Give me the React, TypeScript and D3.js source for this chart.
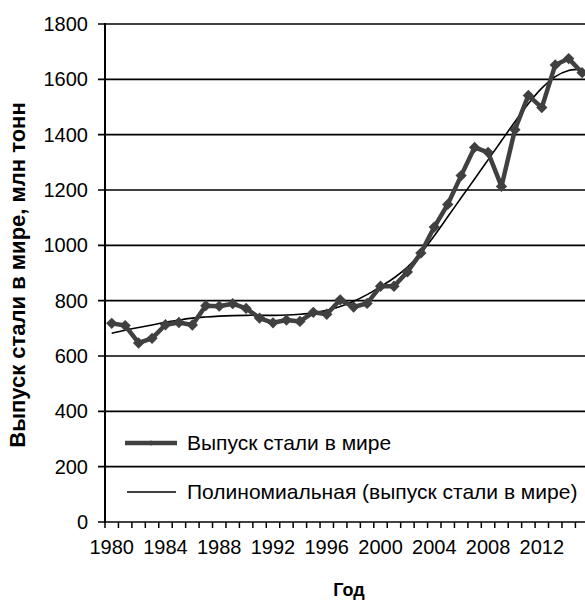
import * as d3 from 'd3';

// годы (категории оси X)
const years = [1980, 1981, 1982, 1983, 1984, 1985, 1986, 1987, 1988, 1989,
	1990, 1991, 1992, 1993, 1994, 1995, 1996, 1997, 1998, 1999,
	2000, 2001, 2002, 2003, 2004, 2005, 2006, 2007, 2008, 2009,
	2010, 2011, 2012, 2013, 2014, 2015];

// выпуск стали в мире, млн тонн
const steel = [718, 710, 647, 664, 713, 721, 712, 782, 780, 789,
	772, 737, 720, 730, 725, 758, 751, 803, 777, 790,
	852, 852, 904, 972, 1066, 1148, 1252, 1354, 1336, 1213,
	1418, 1542, 1498, 1652, 1675, 1624];

// полиномиальный тренд
const trend = [682, 693, 703, 712, 722, 730, 737, 741, 744, 746,
	747, 747, 747, 748, 751, 756, 765, 779, 798, 822,
	851, 882, 921, 972, 1035, 1103, 1172, 1240, 1309, 1378,
	1447, 1512, 1568, 1610, 1632, 1637];

const yTicks = [0, 200, 400, 600, 800, 1000, 1200, 1400, 1600, 1800];
const xTickLabels = [1980, 1984, 1988, 1992, 1996, 2000, 2004, 2008, 2012];

const seriesName = 'Выпуск стали в мире'
	, trendName = 'Полиномиальная (выпуск стали в мире)'
	, yTitle = 'Выпуск стали в мире, млн тонн'
	, xTitle = 'Год'
	;

export default function App(){
	const W = 585
		, H = 600
		, left = 105
		, step = 13.44
		, right = left + years.length * step
		, top = 24
		, bottom = 522
		, font = '"Liberation Sans", Arial, sans-serif'
		, lineColor = '#404040'
		;

	const x = d3.scaleBand<number>().domain(years).range([left, right]).padding(0)
		, xc = (yr: number)=> (x(yr) as number) + x.bandwidth() / 2
		, y = d3.scaleLinear().domain([0, 1800]).range([bottom, top])
		;

	const dataLine = d3.line<number>().x((d, i)=> xc(years[i])).y((d)=> y(d))
		, trendLine = d3.line<number>().x((d, i)=> xc(years[i])).y((d)=> y(d)).curve(d3.curveCatmullRom.alpha(0.5))
		, diamond = d3.symbol(d3.symbolSquare, 64)()
		, smallDiamond = d3.symbol(d3.symbolSquare, 16)()
		;

	// границы категорий для делений оси X
	const xBounds = years.map((yr)=> x(yr) as number);

	return (<div>
		<style>{'body{margin:0}'}</style>
		<svg width={W} height={H} style={{display: 'block', background: '#fff'}} fontFamily={font}>
			{/* сетка */}
			{yTicks.map((t)=>(<line key={t}
				x1={left - 7} x2={W} y1={y(t)} y2={y(t)}
				stroke="#000" strokeWidth={1.7}/>))}

			{/* деления оси X */}
			{xBounds.map((bx, i)=>(<line key={i}
				x1={bx} x2={bx} y1={bottom} y2={bottom + 6}
				stroke="#000" strokeWidth={1.5}/>))}

			{/* ось Y */}
			<line x1={left} x2={left} y1={top - 1} y2={bottom + 1} stroke="#000" strokeWidth={2}/>

			{/* подписи оси Y */}
			{yTicks.map((t)=>(<text key={t} x={88} y={y(t) + 7} textAnchor="end" fontSize={20}>{t}</text>))}

			{/* подписи оси X */}
			{xTickLabels.map((yr)=>(<text key={yr} x={xc(yr)} y={554} textAnchor="middle" fontSize={20}>{yr}</text>))}

			{/* тренд */}
			<path d={trendLine(trend) || ''} fill="none" stroke="#000" strokeWidth={1.6}/>

			{/* данные */}
			<path d={dataLine(steel) || ''} fill="none" stroke={lineColor} strokeWidth={4.5} strokeLinejoin="round"/>
			{steel.map((v, i)=>(<path key={i} d={diamond || ''}
				transform={`translate(${xc(years[i])},${y(v)}) rotate(45)`}
				fill={lineColor}/>))}

			{/* легенда */}
			<line x1={125} x2={177} y1={443} y2={443} stroke={lineColor} strokeWidth={4.5}/>
			<path d={smallDiamond || ''} transform="translate(151,443) rotate(45)" fill={lineColor}/>
			<text x={187} y={450} fontSize={21}>{seriesName}</text>
			<line x1={127} x2={176} y1={492} y2={492} stroke="#000" strokeWidth={1.6}/>
			<text x={187} y={499} fontSize={21}>{trendName}</text>

			{/* названия осей */}
			<text transform="translate(25,275) rotate(-90)" textAnchor="middle" fontSize={22} fontWeight="bold">{yTitle}</text>
			<text x={349} y={596} textAnchor="middle" fontSize={18} fontWeight="bold">{xTitle}</text>
		</svg>
	</div>);
}
